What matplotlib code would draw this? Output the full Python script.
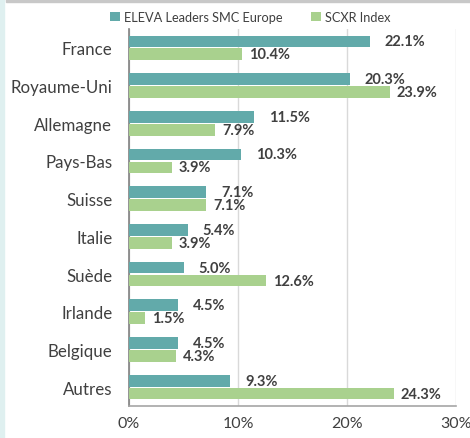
import matplotlib.pyplot as plt
from matplotlib.patches import Rectangle
import numpy as np

plt.rcParams['font.family'] = ['Lato', 'DejaVu Sans']

pays = ['France', 'Royaume-Uni', 'Allemagne', 'Pays-Bas', 'Suisse',
        'Italie', 'Suède', 'Irlande', 'Belgique', 'Autres']
eleva = [22.1, 20.3, 11.5, 10.3, 7.1, 5.4, 5.0, 4.5, 4.5, 9.3]
scxr = [10.4, 23.9, 7.9, 3.9, 7.1, 3.9, 12.6, 1.5, 4.3, 24.3]
ticks = [0, 10, 20, 30]

teal = '#62aaaa'
green = '#a9d18e'
txt = '#404040'

fig = plt.figure(figsize=(4.7, 4.39), dpi=100)
# bande de fond a gauche et ligne grise en haut
fig.patches.append(Rectangle((0, 0), 4 / 470, 1, transform=fig.transFigure,
                             color='#dff0f0', zorder=0))
fig.patches.append(Rectangle((6 / 470, 1 - 3 / 439), 1, 3 / 439,
                             transform=fig.transFigure, color='#c8c8c8', zorder=0))

ax = fig.add_axes([129 / 470, 1 - 407 / 439, 327 / 470, 377 / 439])

y = np.arange(len(pays))
h = 0.31
b1 = ax.barh(y - h / 2 - 0.017, eleva, height=h, color=teal, label='ELEVA Leaders SMC Europe', zorder=3)
b2 = ax.barh(y + h / 2 + 0.017, scxr, height=h, color=green, label='SCXR Index', zorder=3)

for v, yy in zip(eleva, y - h / 2 - 0.017):
    ax.annotate(f'{v:.1f}%', (v, yy), xytext=(10.5, 0), textcoords='offset points',
                va='center', ha='left', fontsize=10.5, fontweight='bold', color=txt)
for v, yy in zip(scxr, y + h / 2 + 0.017):
    ax.annotate(f'{v:.1f}%', (v, yy), xytext=(5, 0), textcoords='offset points',
                va='center', ha='left', fontsize=10.5, fontweight='bold', color=txt)

ax.set_xlim(0, 30)
ax.set_ylim(len(pays) - 0.5, -0.5)
ax.set_yticks(y)
ax.set_yticklabels(pays, fontsize=12.2, color=txt)
ax.set_xticks(ticks)
ax.set_xticklabels([f'{t}%' for t in ticks], fontsize=11.5, color=txt)
ax.tick_params(axis='both', length=0)
ax.tick_params(axis='x', pad=7)
ax.tick_params(axis='y', pad=12)
ax.grid(axis='x', color='#d9d9d9', linewidth=1, zorder=0)

ax.spines['top'].set_visible(False)
ax.spines['right'].set_visible(False)
ax.spines['left'].set_color('#808080')
ax.spines['left'].set_linewidth(1.2)
ax.spines['bottom'].set_color('#a6a6a6')
ax.spines['bottom'].set_linewidth(1.2)

fig.legend(handles=[b1, b2], loc='center', bbox_to_anchor=(250 / 470, 1 - 18 / 439),
           ncol=2, frameon=False, fontsize=9.2, handlelength=0.8, handleheight=0.8,
           handletextpad=0.3, columnspacing=2.2, labelcolor=txt)

fig.savefig('out.png', dpi=100)
